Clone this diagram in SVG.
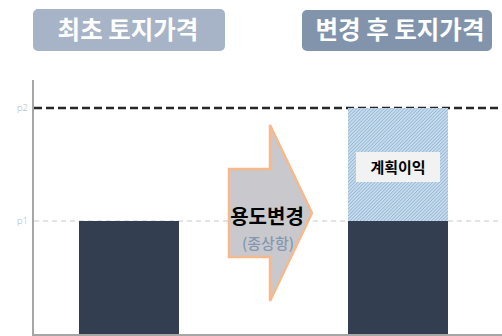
<svg xmlns="http://www.w3.org/2000/svg" width="502" height="336" viewBox="0 0 502 336">
<style>
.title{font-family:"Noto Sans CJK KR",sans-serif;font-size:24.5px;font-weight:bold;fill:#fff;text-anchor:middle}
.tick{font-family:"Open Sans","DejaVu Sans",sans-serif;font-size:9.5px;fill:#aab3c0;text-anchor:end;font-weight:300}
.bar{fill:#333f50}
</style>
<defs>
<pattern id="hatch" patternUnits="userSpaceOnUse" width="2.4" height="2.4" patternTransform="rotate(45)">
<rect width="2.4" height="2.4" fill="#c9dcec"/>
<line x1="0" y1="0" x2="0" y2="2.4" stroke="#7fa9cf" stroke-width="1.2"/>
</pattern>
</defs>
<rect width="502" height="336" fill="#fff"/>
<g id="title-initial">
<rect x="33" y="9" width="192" height="42" rx="5" fill="#a7b3c6"/>
<text class="title" x="128" y="39">최초 토지가격</text>
</g>
<g id="title-after">
<rect x="302" y="10" width="190" height="41" rx="5" fill="#8194ac"/>
<text class="title" x="400" y="39">변경 후 토지가격</text>
</g>
<g id="axes">
<line x1="33" y1="80" x2="33" y2="335" stroke="#a6a6a6" stroke-width="2"/>
<line x1="32" y1="335" x2="502" y2="335" stroke="#a6a6a6" stroke-width="2"/>
<line x1="34" y1="108" x2="502" y2="108" stroke="#262626" stroke-width="2.5" stroke-dasharray="8,4"/>
<line x1="34" y1="221" x2="502" y2="221" stroke="#c8c8c8" stroke-width="1" stroke-dasharray="5,4"/>
<text class="tick" x="28" y="111">p2</text>
<text class="tick" x="28" y="224">p1</text>
</g>
<g id="bar-initial">
<rect class="bar" x="79" y="221" width="100" height="113"/>
</g>
<g id="bar-after">
<rect x="348" y="108" width="100" height="113" fill="url(#hatch)"/>
<rect class="bar" x="348" y="221" width="100" height="113"/>
</g>
<g id="label-gain">
<rect x="356" y="152" width="84" height="30" fill="#f2f2f2"/>
<text x="398" y="173" font-family="Noto Sans CJK KR,sans-serif" font-size="15" font-weight="bold" fill="#000" text-anchor="middle">계획이익</text>
</g>
<g id="arrow">
<path d="M229,169 L270,169 L270,125 L312,213 L270,301 L270,257 L229,257 Z" fill="#c9c9cd" stroke="#f5b98c" stroke-width="2.5" stroke-linejoin="miter"/>
<text x="267" y="224" font-family="Noto Sans CJK KR,sans-serif" font-size="20" font-weight="bold" fill="#000" text-anchor="middle">용도변경</text>
<text x="268" y="249" font-family="Noto Sans CJK KR,sans-serif" font-size="15" font-weight="500" fill="#8497b0" text-anchor="middle">(종상항)</text>
</g>
</svg>
